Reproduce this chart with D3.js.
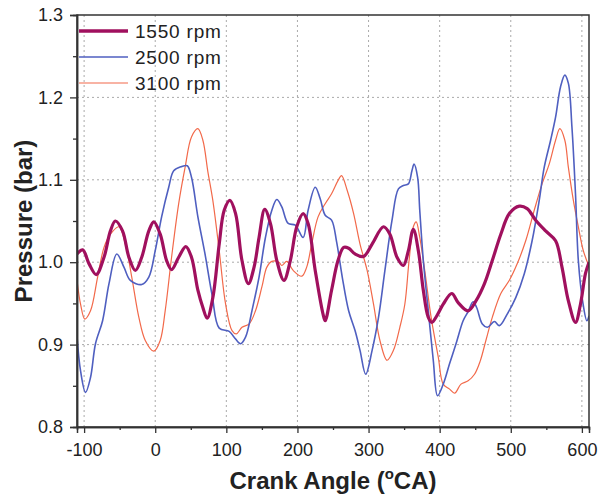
<!DOCTYPE html>
<html>
<head>
<meta charset="utf-8">
<script src="https://cdn.jsdelivr.net/npm/d3@7"></script>
<style>
    body { margin: 0; background: #fff; }
    svg { font-family: Arial, "Liberation Sans", sans-serif; }
</style>
</head>
<body>
<div id="chart"></div>
<script>
// Данные: [угол, давление]
const rpm1550 = [
    [-110, 1.010], [-102, 1.015], [-93, 0.998], [-83, 0.985], [-72, 1.006], [-63, 1.038],
    [-56, 1.050], [-46, 1.038], [-37, 1.006], [-28, 0.990], [-19, 1.006], [-9, 1.038],
    [-2, 1.049], [7, 1.034], [16, 1.002], [23, 0.991], [33, 1.006], [43, 1.019],
    [51, 1.006], [60, 0.966], [67, 0.945], [73, 0.932], [81, 0.957], [90, 1.022],
    [97, 1.063], [105, 1.075], [113, 1.059], [122, 1.002], [131, 0.974], [139, 0.994],
    [146, 1.030], [154, 1.064], [162, 1.047], [171, 1.002], [181, 0.978], [190, 1.002],
    [199, 1.043], [208, 1.059], [215, 1.047], [225, 0.990], [236, 0.937], [239, 0.929],
    [248, 0.966], [257, 1.002], [265, 1.018], [272, 1.017], [281, 1.010], [293, 1.007],
    [305, 1.022], [321, 1.043], [330, 1.034], [340, 1.006], [349, 0.996], [356, 1.014],
    [363, 1.040], [370, 1.014], [377, 0.966], [384, 0.933], [389, 0.927], [396, 0.935],
    [405, 0.949], [417, 0.962], [426, 0.951], [440, 0.941], [451, 0.953], [463, 0.974],
    [474, 1.002], [486, 1.034], [498, 1.059], [512, 1.068], [523, 1.065], [535, 1.051],
    [549, 1.038], [563, 1.026], [572, 0.994], [581, 0.953], [591, 0.927], [598, 0.949],
    [605, 0.986], [610, 1.000]
];
const rpm2500 = [
    [-110, 0.910], [-105, 0.868], [-98, 0.842], [-91, 0.860], [-84, 0.901], [-74, 0.929],
    [-65, 0.974], [-54, 1.010], [-44, 0.994], [-35, 0.978], [-19, 0.973], [-9, 0.982],
    [0, 1.014], [9, 1.055], [19, 1.091], [26, 1.111], [37, 1.116], [45, 1.117],
    [51, 1.103], [60, 1.055], [70, 1.010], [80, 0.960], [90, 0.920], [104, 0.916],
    [111, 0.909], [120, 0.901], [127, 0.909], [136, 0.941], [146, 0.982], [155, 1.030],
    [164, 1.063], [171, 1.076], [178, 1.067], [187, 1.047], [197, 1.045], [208, 1.030],
    [215, 1.063], [225, 1.091], [232, 1.077], [239, 1.057], [248, 1.051], [255, 1.025],
    [263, 0.982], [272, 0.941], [281, 0.917], [288, 0.893], [296, 0.864], [305, 0.893],
    [314, 0.933], [323, 0.990], [333, 1.051], [342, 1.089], [349, 1.093], [356, 1.095],
    [361, 1.111], [364, 1.119], [369, 1.103], [372, 1.063], [377, 1.002], [384, 0.941],
    [391, 0.881], [397, 0.838], [405, 0.852], [414, 0.877], [423, 0.901], [433, 0.929],
    [440, 0.940], [447, 0.952], [452, 0.945], [460, 0.925], [467, 0.921], [477, 0.928],
    [484, 0.923], [495, 0.937], [507, 0.957], [519, 0.986], [530, 1.026], [540, 1.075],
    [547, 1.115], [556, 1.148], [563, 1.176], [570, 1.213], [576, 1.227], [581, 1.217],
    [586, 1.164], [591, 1.083], [595, 1.002], [601, 0.953], [607, 0.929], [610, 0.935]
];
const rpm3100 = [
    [-110, 0.978], [-105, 0.949], [-99, 0.931], [-91, 0.941], [-81, 0.982], [-72, 1.018],
    [-63, 1.034], [-51, 1.043], [-42, 1.022], [-33, 0.982], [-23, 0.933], [-14, 0.905],
    [-2, 0.892], [7, 0.905], [14, 0.941], [23, 1.006], [33, 1.071], [42, 1.115],
    [51, 1.152], [60, 1.162], [67, 1.148], [74, 1.110], [81, 1.075], [90, 1.014],
    [99, 0.949], [108, 0.917], [114, 0.913], [122, 0.921], [132, 0.925], [141, 0.941],
    [150, 0.970], [157, 0.994], [164, 1.001], [174, 1.000], [178, 0.996], [185, 1.001],
    [194, 0.990], [206, 0.983], [213, 0.994], [220, 1.022], [229, 1.055], [239, 1.071],
    [248, 1.083], [257, 1.099], [262, 1.105], [270, 1.087], [279, 1.059], [288, 1.022],
    [298, 0.990], [307, 0.949], [316, 0.905], [326, 0.881], [335, 0.893], [344, 0.921],
    [351, 0.949], [357, 1.002], [363, 1.043], [367, 1.049], [372, 1.030], [379, 0.990],
    [388, 0.933], [398, 0.885], [405, 0.852], [414, 0.846], [421, 0.841], [430, 0.852],
    [440, 0.856], [449, 0.864], [457, 0.880], [465, 0.905], [474, 0.933], [486, 0.962],
    [498, 0.978], [509, 0.998], [521, 1.026], [533, 1.063], [544, 1.095], [554, 1.119],
    [563, 1.148], [569, 1.162], [576, 1.148], [581, 1.115], [588, 1.075], [595, 1.043],
    [602, 1.014], [610, 0.995]
];

const seriesNames = ["1550 rpm", "2500 rpm", "3100 rpm"];
const seriesData = [rpm1550, rpm2500, rpm3100];
const seriesColors = ["#a0105e", "#4f5fc0", "#f2694a"];
const seriesWidths = [3.2, 1.6, 1.2];

const xTicks = [-100, 0, 100, 200, 300, 400, 500, 600];
const xMinorTicks = [-50, 50, 150, 250, 350, 450, 550];
const yTicks = [0.8, 0.9, 1.0, 1.1, 1.2, 1.3];
const yMinorTicks = [0.85, 0.95, 1.05, 1.15, 1.25];

const width = 603, height = 496;
const margin = { top: 15, right: 14, bottom: 69, left: 77 };
const innerW = width - margin.left - margin.right;
const innerH = height - margin.top - margin.bottom;

const svg = d3.select("#chart").append("svg")
    .attr("width", width)
    .attr("height", height);

const g = svg.append("g")
    .attr("transform", `translate(${margin.left},${margin.top})`);

const x = d3.scaleLinear().domain([-110, 610]).range([0, innerW]);
const y = d3.scaleLinear().domain([0.8, 1.3]).range([innerH, 0]);

// Сетка пунктиром
g.append("g")
    .selectAll("line")
    .data(xTicks)
    .enter().append("line")
    .attr("x1", d => x(d)).attr("x2", d => x(d))
    .attr("y1", 0).attr("y2", innerH)
    .attr("stroke", "#aaa")
    .attr("stroke-width", 1)
    .attr("stroke-dasharray", "2,3");

g.append("g")
    .selectAll("line")
    .data(yTicks.slice(1, -1))
    .enter().append("line")
    .attr("x1", 0).attr("x2", innerW)
    .attr("y1", d => y(d)).attr("y2", d => y(d))
    .attr("stroke", "#aaa")
    .attr("stroke-width", 1)
    .attr("stroke-dasharray", "2,3");

// Линии серий
g.append("clipPath").attr("id", "clip")
    .append("rect").attr("width", innerW).attr("height", innerH);

const line = d3.line()
    .x(d => x(d[0]))
    .y(d => y(d[1]))
    .curve(d3.curveCatmullRom.alpha(0.5));

const order = [2, 1, 0];
g.append("g").attr("clip-path", "url(#clip)")
    .selectAll("path")
    .data(order)
    .enter().append("path")
    .attr("d", i => line(seriesData[i]))
    .attr("fill", "none")
    .attr("stroke", i => seriesColors[i])
    .attr("stroke-width", i => seriesWidths[i])
    .attr("stroke-linejoin", "round");

// Рамка
g.append("rect")
    .attr("width", innerW).attr("height", innerH)
    .attr("fill", "none")
    .attr("stroke", "#333")
    .attr("stroke-width", 1.5);

// Оси
g.append("g")
    .attr("transform", `translate(0,${innerH})`)
    .call(d3.axisBottom(x).tickValues(xTicks).tickSize(6).tickPadding(10).tickFormat(d => String(d)));
g.append("g")
    .attr("transform", `translate(0,${innerH})`)
    .call(d3.axisBottom(x).tickValues(xMinorTicks).tickSize(3).tickFormat(""));

g.append("g")
    .call(d3.axisLeft(y).tickValues(yTicks).tickSize(7).tickPadding(7).tickFormat(d3.format(".1f")));
g.append("g")
    .call(d3.axisLeft(y).tickValues(yMinorTicks).tickSize(4).tickFormat(""));

g.selectAll(".domain").attr("stroke", "#333").attr("stroke-width", 1.5);
g.selectAll(".tick line").attr("stroke", "#333").attr("stroke-width", 1.3);
g.selectAll(".tick text").attr("font-size", "18px").attr("fill", "#222")
    .attr("font-family", "Arial, 'Liberation Sans', sans-serif");

// Подписи осей
const xTitle = svg.append("text")
    .attr("x", margin.left + innerW / 2)
    .attr("y", 489)
    .attr("text-anchor", "middle")
    .attr("font-size", "24px")
    .attr("font-weight", "bold")
    .attr("fill", "#222");
xTitle.append("tspan").text("Crank Angle (");
xTitle.append("tspan").text("o").attr("font-size", "15px").attr("dy", -10);
xTitle.append("tspan").text("CA)").attr("dy", 10);

svg.append("text")
    .attr("transform", `translate(32,${margin.top + innerH / 2}) rotate(-90)`)
    .attr("text-anchor", "middle")
    .attr("font-size", "24px")
    .attr("font-weight", "bold")
    .attr("fill", "#222")
    .text("Pressure (bar)");

// Легенда
const legend = g.append("g").attr("transform", "translate(2,16)");
const item = legend.selectAll("g")
    .data(seriesNames)
    .enter().append("g")
    .attr("transform", (d, i) => `translate(0,${i * 26})`);
item.append("line")
    .attr("x1", 0).attr("x2", 49)
    .attr("stroke", (d, i) => seriesColors[i])
    .attr("stroke-width", (d, i) => seriesWidths[i] + (i === 0 ? 0.5 : 0));
item.append("text")
    .attr("x", 56)
    .attr("dy", "0.35em")
    .attr("font-size", "19px")
    .attr("letter-spacing", "0.8px")
    .attr("fill", "#222")
    .text(d => d);
</script>
</body>
</html>
